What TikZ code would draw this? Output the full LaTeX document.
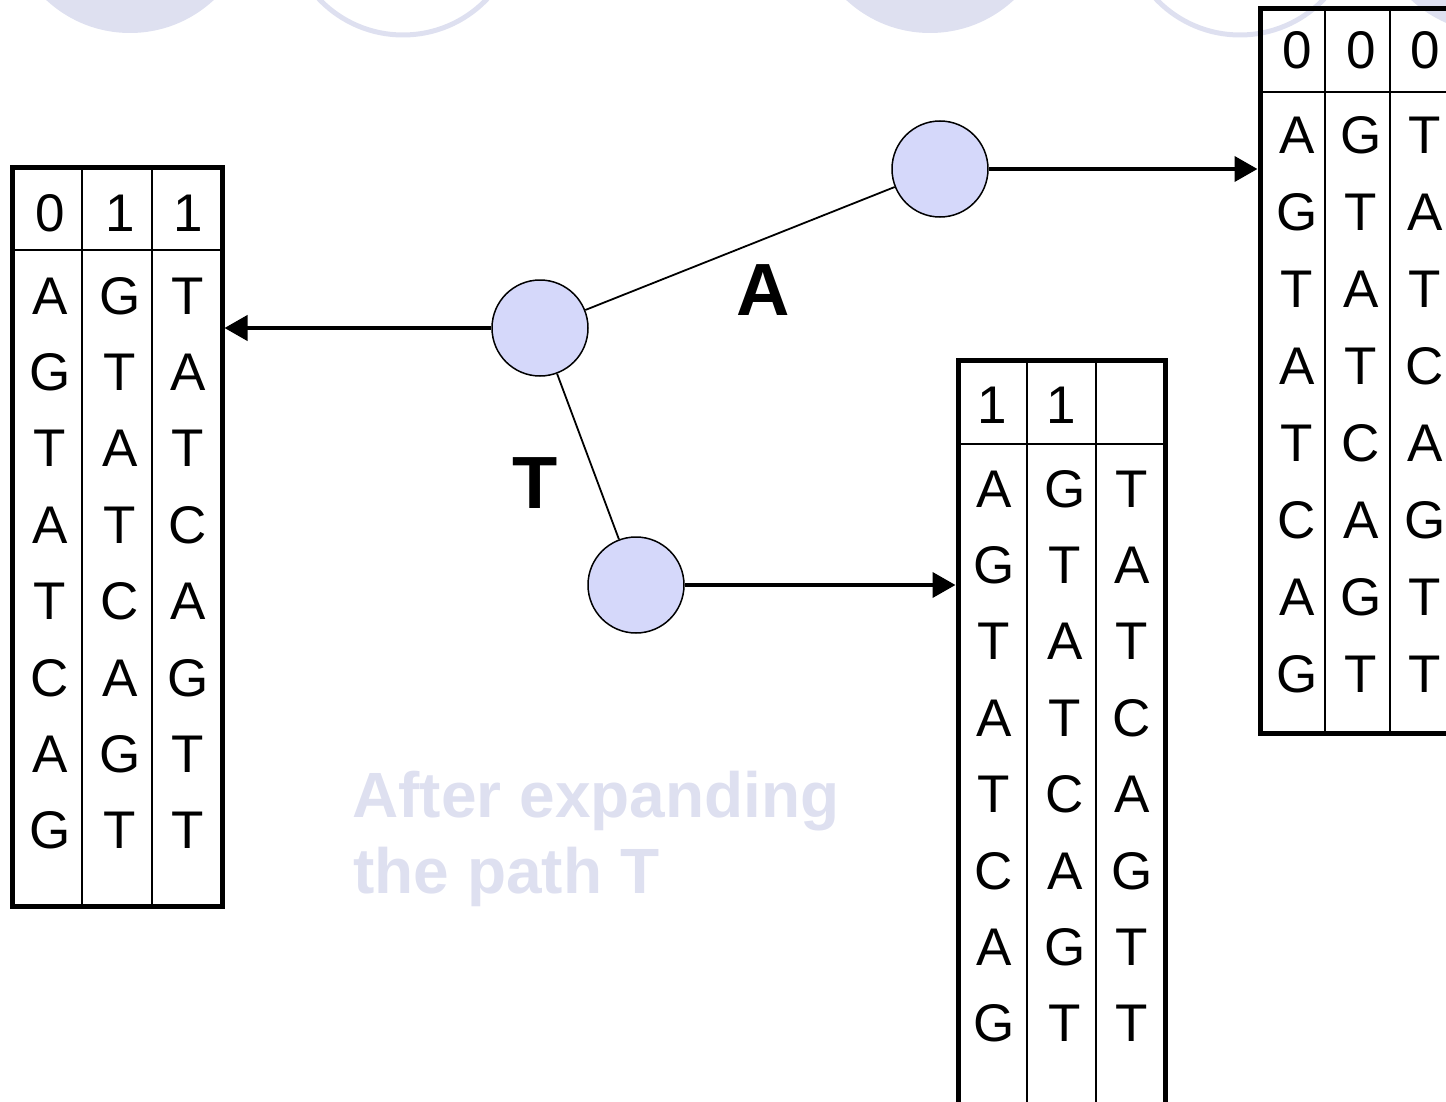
\documentclass[tikz,border=0pt]{standalone}
\usepackage{fontspec}
\setmainfont{Liberation Sans}
\usetikzlibrary{arrows.meta}
\definecolor{nodefill}{RGB}{213,216,250}
\definecolor{pale}{RGB}{222,224,240}
\begin{document}
\begin{tikzpicture}[x=0.5pt,y=-0.5pt,
  tnode/.style={circle, draw, line width=0.75pt, fill=nodefill, minimum size=48pt, inner sep=0pt},
  tbl/.style={draw, line width=2.5pt, inner sep=0pt},
  sep/.style={line width=1pt},
  cell/.style={font=\fontsize{26.5}{30}\selectfont, inner sep=0pt, anchor=base},
  edgelbl/.style={font=\bfseries\fontsize{37}{40}\selectfont, inner sep=0pt, anchor=base},
  arr/.style={line width=2pt, -{Triangle[length=11.5pt,width=12.5pt]}},
  thinedge/.style={line width=0.9pt},
  ghost/.style={font=\bfseries\fontsize{32}{38}\selectfont, text=pale, inner sep=0pt, anchor=base west},
  ghostfill/.style={fill=pale},
  ghostring/.style={draw=pale, line width=2.5pt}
]
\path[use as bounding box, clip] (0,0) rectangle (1446,1102);

% faded circles of the upper level
\path[ghostfill] (130,-90) circle[radius=123];
\path[ghostring] (403,-81) circle[radius=116];
\path[ghostfill] (930,-90) circle[radius=123];
\path[ghostring] (1240,-81) circle[radius=116];
\path[ghostfill] (1495,-90) circle[radius=123];

% ghost text
\node[ghost] (after1) at (352,817) {After expanding};
\node[ghost] (after2) at (353,893) {the path T};

% tables
\node[tbl, minimum width=105pt, minimum height=369pt] (tL) at (117,537) {};
\draw[sep] (82,168) -- (82,906) (152,168) -- (152,906) (12,250) -- (222,250);

\node[tbl, minimum width=103.5pt, minimum height=380pt] (tB) at (1061.5,740) {};
\draw[sep] (1027,360) -- (1027,1120) (1096,360) -- (1096,1120) (958,444) -- (1165,444);

\node[tbl, minimum width=97.5pt, minimum height=362pt] (tR) at (1357.5,371) {};
\draw[sep] (1325,9) -- (1325,733) (1390,9) -- (1390,733) (1260,92) -- (1455,92);

% left table text
\foreach \xx/\hd/\seq [count=\cc] in {50/0/{A,G,T,A,T,C,A,G},120/1/{G,T,A,T,C,A,G,T},188/1/{T,A,T,C,A,G,T,T}}{
  \node[cell] (L-h\cc) at (\xx,231) {\hd};
  \foreach \ch [count=\rr] in \seq {
    \node[cell] (L-\cc-\rr) at (\xx,{314+(\rr-1)*76.4}) {\ch};
  }
}
% bottom table text
\node[cell] (B-h1) at (992,423) {1};
\node[cell] (B-h2) at (1061,423) {1};
\foreach \xx/\seq [count=\cc] in {994/{A,G,T,A,T,C,A,G},1065/{G,T,A,T,C,A,G,T},1132/{T,A,T,C,A,G,T,T}}{
  \foreach \ch [count=\rr] in \seq {
    \node[cell] (B-\cc-\rr) at (\xx,{507+(\rr-1)*76.4}) {\ch};
  }
}
% top right table text
\foreach \xx/\hd/\seq [count=\cc] in {1297/0/{A,G,T,A,T,C,A,G},1361/0/{G,T,A,T,C,A,G,T},1425/0/{T,A,T,C,A,G,T,T}}{
  \node[cell] (R-h\cc) at (\xx,69) {\hd};
  \foreach \ch [count=\rr] in \seq {
    \node[cell] (R-\cc-\rr) at (\xx,{154+(\rr-1)*76.9}) {\ch};
  }
}

% tree nodes
\node[tnode] (c) at (540,328) {};
\node[tnode] (a) at (940,169) {};
\node[tnode] (t) at (636,585) {};

\draw[thinedge] (c) -- (a);
\draw[thinedge] (c) -- (t);

\node[edgelbl] (la) at (763,315) {A};
\node[edgelbl] (lt) at (535,508) {T};

\draw[arr] (c.west) -- (tL.east |- c.west);
\draw[arr] (a.east) -- (tR.west |- a.east);
\draw[arr] (t.east) -- (tB.west |- t.east);
\end{tikzpicture}
\end{document}
